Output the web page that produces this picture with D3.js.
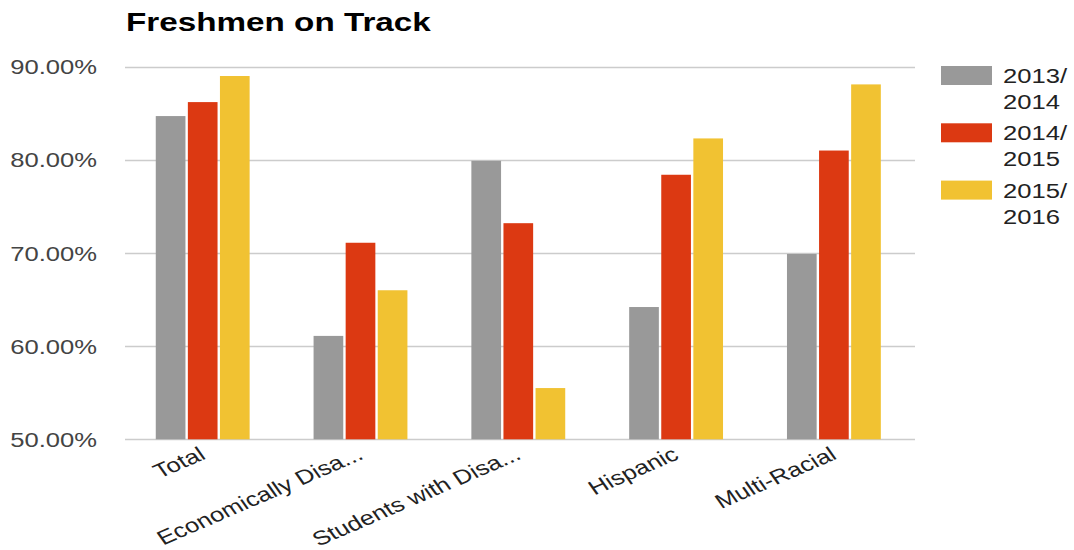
<!DOCTYPE html>
<html>
<head>
<meta charset="utf-8">
<script src="https://cdn.jsdelivr.net/npm/d3@7"></script>
<style>
  html, body { margin: 0; padding: 0; background: #fff; }
  svg { display: block; font-family: Arial, "Liberation Sans", sans-serif; }
</style>
</head>
<body>
<svg id="chart" width="1074" height="550"></svg>
<script>
// Freshmen on track rates by student group and school year
const categories = ["Total", "Economically Disa...", "Students with Disa...", "Hispanic", "Multi-Racial"];
const seriesNames = ["2013/\n2014", "2014/\n2015", "2015/\n2016"];
const values2013 = [84.7, 61.1, 79.9, 64.2, 69.9];
const values2014 = [86.2, 71.1, 73.2, 78.4, 81.0];
const values2015 = [89.0, 66.0, 55.5, 82.3, 88.1];
const yTicks = [50, 60, 70, 80, 90];
const colors = ["#999999", "#dc3912", "#f1c232"];

const series = [values2013, values2014, values2015];
const svg = d3.select("#chart");

const plotLeft = 125, plotRight = 914, plotTop = 66.7, plotBottom = 439.3;
const sx = 1.28; // horizontal text stretch

const x0 = d3.scaleBand().domain(categories).range([plotLeft, plotRight])
  .paddingInner(0.39).paddingOuter(0.195);
const x1 = d3.scaleBand().domain(d3.range(series.length)).range([0, x0.bandwidth()]);
const y = d3.scaleLinear().domain([50, 90]).range([plotBottom, plotTop]);

// gridlines
svg.append("g").selectAll("line").data(yTicks).join("line")
  .attr("x1", plotLeft).attr("x2", plotRight + 1)
  .attr("y1", d => Math.round(y(d)) + 0.5).attr("y2", d => Math.round(y(d)) + 0.5)
  .attr("stroke", "#cccccc").attr("stroke-width", 1.3);

// y tick labels
svg.append("g").selectAll("text").data(yTicks).join("text")
  .attr("transform", d => `translate(97,${y(d) + 7.5}) scale(${sx},1)`)
  .attr("text-anchor", "end")
  .attr("font-size", 20)
  .attr("fill", "#444")
  .text(d => d.toFixed(2) + "%");

// bars
const groups = svg.append("g").selectAll("g").data(categories).join("g")
  .attr("transform", d => `translate(${x0(d)},0)`);
groups.selectAll("rect")
  .data((c, ci) => series.map((s, si) => ({ si, v: s[ci] })))
  .join("rect")
  .attr("x", d => x1(d.si))
  .attr("width", x1.bandwidth() - 2.4)
  .attr("y", d => y(d.v))
  .attr("height", d => y(50) - y(d.v))
  .attr("fill", d => colors[d.si]);

// x category labels, rotated
svg.append("g").selectAll("text").data(categories).join("text")
  .attr("transform", d => `translate(${x0(d) + x0.bandwidth() / 2 + 3},${plotBottom + 19}) scale(${sx},1) rotate(-29)`)
  .attr("text-anchor", "end")
  .attr("font-size", 20)
  .attr("fill", "#222")
  .text(d => d);

// title
svg.append("text")
  .attr("transform", `translate(126,31) scale(1.33,1)`)
  .attr("font-size", 25)
  .attr("font-weight", "bold")
  .attr("fill", "#000")
  .text("Freshmen on Track");

// legend
const legend = svg.append("g").selectAll("g").data(seriesNames).join("g")
  .attr("transform", (d, i) => `translate(941,${66 + i * 57.3})`);
legend.append("rect")
  .attr("width", 51).attr("height", 19)
  .attr("fill", (d, i) => colors[i]);
legend.each(function(d) {
  const lines = d.split("\n");
  d3.select(this).selectAll("text").data(lines).join("text")
    .attr("transform", (l, j) => `translate(62,${17 + j * 26}) scale(${sx},1)`)
    .attr("font-size", 20)
    .attr("fill", "#222")
    .text(l => l);
});
</script>
</body>
</html>
